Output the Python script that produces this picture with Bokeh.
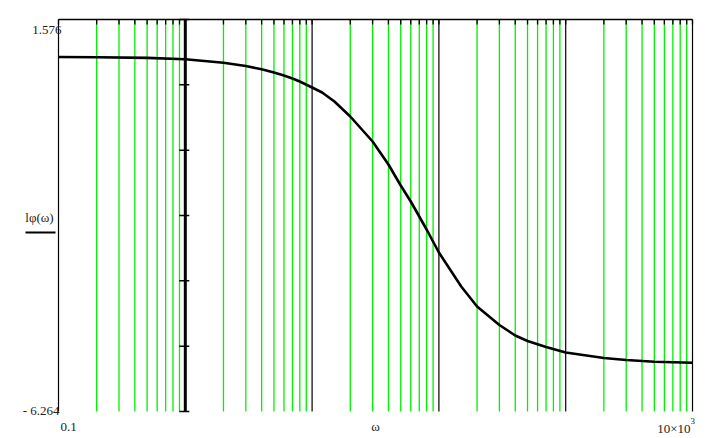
import math
from bokeh.plotting import figure
from bokeh.models import Range1d
from bokeh.core.properties import value
from bokeh.embed import file_html
from bokeh.resources import INLINE

# ---------------- data ----------------
omega = [0.1, 0.2, 0.5, 1, 2, 3, 4, 5, 6, 7, 8, 10, 12, 15, 20, 30, 40, 50,
         60, 70, 80, 100, 150, 200, 300, 400, 500, 700, 1000, 2000, 3000,
         5000, 10000]
l_phi = [0.826, 0.822, 0.808, 0.782, 0.710, 0.646, 0.580, 0.516, 0.456,
         0.396, 0.336, 0.216, 0.116, -0.064, -0.364, -0.864, -1.324, -1.744,
         -2.064, -2.364, -2.624, -3.084, -3.764, -4.164, -4.534, -4.744,
         -4.854, -4.974, -5.084, -5.194, -5.234, -5.270, -5.290]

x_limits = [0.1, 1e4]
y_limits = [1.576, -6.264]
y_limit_labels = ["1.576", "- 6.264"]
x_limit_labels = ["0.1", "10\u00d710", "3"]
x_title = "\u03c9"
y_title = "l\u03c6(\u03c9)"
major_x = [0.1, 1, 10, 100, 1000, 10000]
minor_x = [m * 10 ** e for e in range(-1, 4) for m in range(2, 10)]
y_axis_at = 1
y_axis_ticks = [1.576, 0.2693, -1.0373, -2.344, -3.6507, -4.9573, -6.264]

# ---------------- layout (picture pixels) ----------------
W, H = 717, 438
ORG = 0
F_L, F_R, F_T, F_B = 58, 692, 19, 411

lx0, lx1 = math.log10(x_limits[0]), math.log10(x_limits[1])
ppd = (F_R - F_L) / (lx1 - lx0)
ppu = (F_B - F_T) / (y_limits[0] - y_limits[1])


def X(px):
    return 10 ** (lx0 + (px - F_L) / ppd)


def Y(py):
    return y_limits[0] - (py - F_T) / ppu


def PX(x):
    return F_L + (math.log10(x) - lx0) * ppd


p = figure(width=W, height=H, x_axis_type="log", x_axis_location=None,
           y_axis_location=None,
           x_range=Range1d(X(ORG), X(ORG + W)),
           y_range=Range1d(Y(ORG + H), Y(ORG)),
           output_backend="svg", toolbar_location=None, min_border=0)
p.outline_line_color = None
p.grid.visible = False
p.background_fill_color = "white"
p.border_fill_color = "white"

ytop, ybot = y_limits[0], y_limits[1]
GREEN = "#00f000"

# minor grid (green)
p.segment(x0=minor_x, y0=[ybot] * len(minor_x), x1=minor_x,
          y1=[ytop] * len(minor_x), line_color=GREEN, line_width=1.3)
# major grid (black)
p.segment(x0=major_x, y0=[ybot] * len(major_x), x1=major_x,
          y1=[ytop] * len(major_x), line_color="black", line_width=1.2)
# top frame line
p.segment(x0=[x_limits[0]], y0=[ytop], x1=[x_limits[1]], y1=[ytop],
          line_color="black", line_width=1.3)
# top ticks
all_x = sorted(minor_x + major_x)
p.segment(x0=all_x, y0=[ytop] * len(all_x), x1=all_x,
          y1=[Y(F_T + 5)] * len(all_x), line_color="black", line_width=1.3)
# y axis at omega = 1
p.segment(x0=[y_axis_at], y0=[ybot], x1=[y_axis_at], y1=[ytop],
          line_color="black", line_width=3)
ax_px = PX(y_axis_at)
p.segment(x0=[X(ax_px - 6)] * len(y_axis_ticks), y0=y_axis_ticks,
          x1=[X(ax_px + 4)] * len(y_axis_ticks), y1=y_axis_ticks,
          line_color="black", line_width=1.5)

# curve
p.line(omega, l_phi, line_color="black", line_width=2.6)

font = value("Liberation Serif")
TC = "#222222"
# y limit labels
p.text(x=[X(61)], y=[Y(29)], text=[y_limit_labels[0]], text_font=font,
       text_font_size="13px", text_align="right", text_baseline="middle",
       text_color=TC)
p.text(x=[X(59)], y=[Y(410)], text=[y_limit_labels[1]], text_font=font,
       text_font_size="13px", text_align="right", text_baseline="middle",
       text_color=TC)
# x limit labels
p.text(x=[X(60)], y=[Y(426)], text=[x_limit_labels[0]], text_font=font,
       text_font_size="13px", text_align="left", text_baseline="middle",
       text_color=TC)
p.text(x=[X(690)], y=[Y(428)], text=[x_limit_labels[1]], text_font=font,
       text_font_size="13px", text_align="right", text_baseline="middle",
       text_color=TC)
p.text(x=[X(690)], y=[Y(420)], text=[x_limit_labels[2]], text_font=font,
       text_font_size="9px", text_align="left", text_baseline="middle",
       text_color=TC)
# titles
p.text(x=[math.sqrt(x_limits[0] * x_limits[1])], y=[Y(426)], text=[x_title],
       text_font=font, text_font_size="13px", text_align="center",
       text_baseline="middle", text_color=TC)
p.text(x=[X(39)], y=[Y(217)], text=[y_title], text_font=font,
       text_font_size="13px", text_align="center", text_baseline="middle",
       text_color=TC)
# legend line under the y title
p.segment(x0=[X(25)], y0=[Y(232)], x1=[X(55)], y1=[Y(232)],
          line_color="black", line_width=2.2)

open("out.html", "w").write(file_html(p, INLINE))
